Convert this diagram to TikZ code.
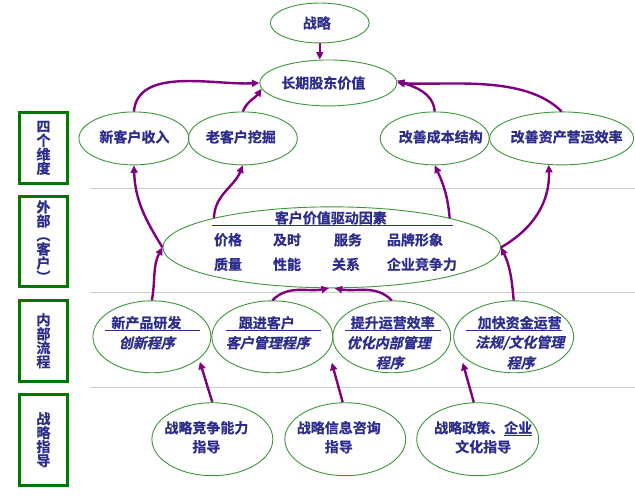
\documentclass[tikz,border=0pt]{standalone}
\usepackage{fontspec}
\newfontfamily\cjkbold{Noto Sans CJK SC Bold}[FakeBold=0.8]
\newfontfamily\cjkslant{Noto Sans CJK SC Bold}[FakeSlant=0.22, FakeBold=0.8]
\usepackage{tikz}
\usetikzlibrary{shapes.geometric,arrows.meta}

\definecolor{arrowpurple}{RGB}{128,0,128}
\definecolor{ovalgreen}{RGB}{60,150,60}
\definecolor{boxgreen}{RGB}{0,120,0}
\definecolor{textnavy}{RGB}{45,45,140}
\definecolor{dividergray}{RGB}{205,205,205}

\begin{document}
\begin{tikzpicture}[x=1pt, y=1pt,
        oval/.style={ellipse, draw=ovalgreen, line width=0.9pt, inner sep=0pt},
        txt/.style={inner sep=0pt, text=textnavy, font=\cjkbold\fontsize{14}{17}\selectfont},
        slanttxt/.style={inner sep=0pt, text=textnavy, font=\cjkslant\fontsize{14}{17}\selectfont},
        guidetxt/.style={txt, align=center, font=\cjkbold\fontsize{14}{19}\selectfont},
        dimbox/.style={draw=boxgreen, line width=3pt, minimum width=48pt, inner sep=0pt,
            align=center, text=textnavy, font=\cjkbold\fontsize{14}{14}\selectfont},
        flow/.style={draw=arrowpurple, line width=2.4pt, -{Triangle[length=7.5pt,width=7pt]}},
        underbar/.style={draw=textnavy, line width=1.1pt},
        divider/.style={draw=dividergray, line width=0.8pt}]
            \fill [white] (0, 0) rectangle (635, 503);

            \draw [divider] (90, 314) -- (635, 314);
            \draw [divider] (90, 210) -- (635, 210);
            \draw [divider] (90, 115) -- (635, 115);

            \node [dimbox, minimum height=71pt] (dim1) at (43.5, 355) {四\\个\\维\\度};
            \node [dimbox, minimum height=90pt] (dim2) at (43.5, 261.5) {外\\部\\︵\\客\\户\\︶};
            \node [dimbox, minimum height=81pt] (dim3) at (43.5, 162) {内\\部\\流\\程};
            \node [dimbox, minimum height=91pt] (dim4) at (43.5, 63) {战\\略\\指\\导};

            \node [oval, minimum width=99pt, minimum height=40pt] (strat) at (320, 480) {};
            \node [txt] (strattext) at (317, 480) {战略};
            \node [oval, minimum width=137pt, minimum height=46pt] (value) at (328.5, 420) {};
            \node [txt] (valuetext) at (323.5, 420) {长期股东价值};

            \node [oval, minimum width=110pt, minimum height=53pt] (newcust) at (134, 364.5) {};
            \node [txt] (newcusttext) at (134.5, 366) {新客户收入};
            \node [oval, minimum width=109pt, minimum height=53pt] (oldcust) at (243, 364.5) {};
            \node [txt] (oldcusttext) at (241, 366) {老客户挖掘};
            \node [oval, minimum width=109pt, minimum height=53pt] (cost) at (435, 364.5) {};
            \node [txt] (costtext) at (441, 366) {改善成本结构};
            \node [oval, minimum width=144pt, minimum height=53pt] (asset) at (562, 364.5) {};
            \node [txt] (assettext) at (567, 366) {改善资产营运效率};

            \node [oval, minimum width=338pt, minimum height=81pt] (drivers) at (332, 255.5) {};
            \node [txt] (driverstitle) at (331, 285) {客户价值驱动因素};
            \draw [underbar] (212, 277) -- (453, 277);
            \node [txt, anchor=west] (price) at (214, 263) {价格};
            \node [txt, anchor=west] (timely) at (273, 263) {及时};
            \node [txt, anchor=west] (service) at (334, 263) {服务};
            \node [txt, anchor=west] (brand) at (387, 263) {品牌形象};
            \node [txt, anchor=west] (quality) at (214, 238.5) {质量};
            \node [txt, anchor=west] (perform) at (273, 238.5) {性能};
            \node [txt, anchor=west] (relation) at (332, 238.5) {关系};
            \node [txt, anchor=west] (compete) at (387, 238.5) {企业竞争力};

            \node [oval, minimum width=118pt, minimum height=72pt] (rd) at (152, 166) {};
            \node [txt] (rdtitle) at (146.5, 180) {新产品研发};
            \draw [underbar] (105, 172) -- (200, 172);
            \node [slanttxt] (rdsub) at (147, 160) {创新程序};

            \node [oval, minimum width=121pt, minimum height=72pt] (follow) at (272.5, 166) {};
            \node [txt] (followtitle) at (267, 180) {跟进客户};
            \draw [underbar] (226, 172) -- (321, 172);
            \node [slanttxt] (followsub) at (268, 160) {客户管理程序};

            \node [oval, minimum width=118pt, minimum height=72pt] (ops) at (392, 166) {};
            \node [txt] (opstitle) at (393, 180) {提升运营效率};
            \draw [underbar] (345, 172) -- (441, 172);
            \node [slanttxt] (opssub) at (389, 160) {优化内部管理};
            \node [slanttxt] (opssub2) at (390, 140) {程序};

            \node [oval, minimum width=120pt, minimum height=72pt] (fund) at (514, 166) {};
            \node [txt] (fundtitle) at (520, 180) {加快资金运营};
            \draw [underbar] (466, 172) -- (562, 172);
            \node [slanttxt] (fundsub) at (520, 160) {法规/文化管理};
            \node [slanttxt] (fundsub2) at (521, 140) {程序};

            \node [oval, minimum width=121pt, minimum height=73pt] (g1) at (212.5, 63.5) {};
            \node [guidetxt] (g1text) at (206.5, 65.5) {战略竞争能力\\指导};
            \node [oval, minimum width=121pt, minimum height=73pt] (g2) at (345.5, 63.5) {};
            \node [guidetxt] (g2text) at (339, 65.5) {战略信息咨询\\指导};
            \node [oval, minimum width=122pt, minimum height=73pt] (g3) at (478, 63.5) {};
            \node [guidetxt] (g3text) at (483.5, 65.5) {战略政策、\underline{企业}\\文化指导};

            \draw [flow] (strat.south) -- (strat.south |- value.north);

            \draw [flow] (newcust.north) to [out=85, in=183, looseness=0.9] (value.west);
            \draw [flow] (oldcust.north) to [out=68, in=236] (value.185);
            \draw [flow] (cost.north) to [out=95, in=-20] (value.2);
            \draw [flow] (asset.north) to [out=135, in=-3, looseness=0.8] (value.east);

            \draw [flow] (drivers.west) to [out=122, in=-88] (newcust.south);
            \draw [flow] (drivers.166) to [out=88, in=248] (oldcust.south);
            \draw [flow] (drivers.14) to [out=95, in=-65] (cost.south);
            \draw [flow] (drivers.east) to [out=30, in=-88] (asset.244);

            \draw [flow] (rd.north) to [out=80, in=242] (drivers.west);
            \draw [flow] (follow.north) to [out=45, in=190] (drivers.266);
            \draw [flow] (ops.north) to [out=135, in=-10] (drivers.274);
            \draw [flow] (fund.north) to [out=95, in=-65] (drivers.east);

            \coordinate (rdtip) at (200, 141);
            \coordinate (followtip) at (332, 140);
            \coordinate (fundtip) at (463, 140);
            \draw [flow] (g1.north) -- (rdtip);
            \draw [flow] (g2.94) -- (followtip);
            \draw [flow] (g3.96) -- (fundtip);
\end{tikzpicture}
\end{document}
